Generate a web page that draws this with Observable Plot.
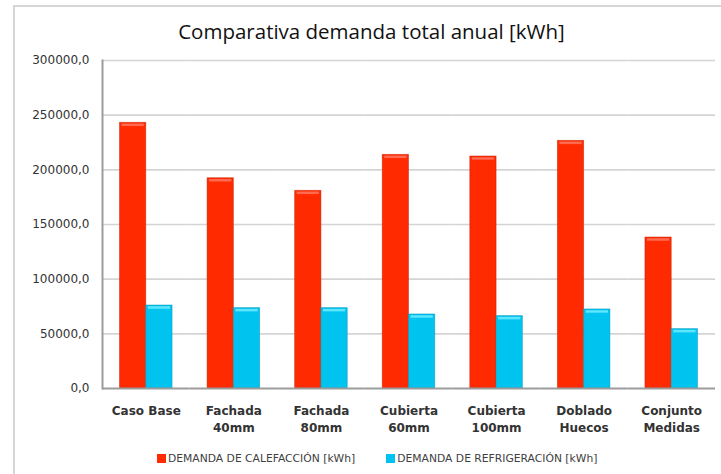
<!DOCTYPE html>
<html>
<head>
<meta charset="utf-8">
<script src="https://cdn.jsdelivr.net/npm/d3@7"></script>
<script src="https://cdn.jsdelivr.net/npm/@observablehq/plot@0.6"></script>
<style>
  html, body { margin: 0; padding: 0; background: #fff; }
  #wrap { position: relative; width: 721px; height: 474px; overflow: hidden; background: #fff; }
  #frame { position: absolute; left: 13px; top: 5px; right: -5px; bottom: -5px; border-top: 2px solid #d6d6d6; border-left: 2px solid #d6d6d6; }
  #title { position: absolute; left: 0; width: 743px; top: 16px; text-align: center; font-family: "Open Sans", sans-serif; font-size: 20.5px; color: #111; line-height: 30px; }
  #chart { position: absolute; left: 0; top: 40px; }
  #legend { position: absolute; left: 157px; top: 451px; }
  .lg-swatches { font-family: "DejaVu Sans", sans-serif !important; font-size: 10.75px !important; color: #404040 !important; min-height: 14px !important; margin: 0 !important; }
  .lg-swatch { margin-right: 31px !important; }
  .lg-swatch > svg { margin-right: 2px !important; }
</style>
</head>
<body>
<div id="wrap">
  <div id="frame"></div>
  <div id="title">Comparativa demanda total anual [kWh]</div>
  <div id="chart"></div>
  <div id="legend"></div>
</div>
<script>
const categories = ["Caso Base", "Fachada\n40mm", "Fachada\n80mm", "Cubierta\n60mm", "Cubierta\n100mm", "Doblado\nHuecos", "Conjunto\nMedidas"];
const calefaccion = [243000, 192300, 180800, 213700, 212200, 226500, 138100];
const refrigeracion = [75900, 73500, 73500, 67700, 66200, 72300, 54300];
const seriesNames = ["DEMANDA DE CALEFACCIÓN [kWh]", "DEMANDA DE REFRIGERACIÓN  [kWh]"];
const seriesColors = ["#ff2a00", "#00c3f0"];
const capColors = ["#ff6a50", "#5ee6ff"];
const edgeColors = ["#c82000", "#0092b8"];
const yTicks = [0, 50000, 100000, 150000, 200000, 250000, 300000];

const data = [];
categories.forEach((c, i) => {
  data.push({cat: c, serie: seriesNames[0], value: calefaccion[i], k: 0});
  data.push({cat: c, serie: seriesNames[1], value: refrigeracion[i], k: 1});
});

const fmt = d => d3.format(".1f")(d).replace(".", ",");

const chart = Plot.plot({
  width: 721,
  height: 400,
  marginLeft: 102,
  marginRight: 6,
  marginTop: 20,
  marginBottom: 52,
  style: {fontFamily: "DejaVu Sans, sans-serif", background: "transparent", color: "#333"},
  fx: {domain: categories, padding: 0, round: false, label: null},
  x: {domain: seriesNames, paddingInner: 0, paddingOuter: 2 / 3, round: false, axis: null, label: null},
  y: {domain: [0, 300000], label: null},
  color: {domain: seriesNames, range: seriesColors},
  marks: [
    Plot.gridY(yTicks.slice(1), {stroke: "#d4d4d4", strokeWidth: 1.6, strokeOpacity: 1}),
    Plot.barY(data, {fx: "cat", x: "serie", y: "value", fill: "serie", stroke: d => edgeColors[d.k], strokeWidth: 0.8, strokeOpacity: 0.6}),
    Plot.tickY(data, {fx: "cat", x: "serie", y: "value", stroke: d => capColors[d.k], strokeWidth: 2.5, dy: 2, insetLeft: 2, insetRight: 2}),
    Plot.ruleY([0], {stroke: "#9c9c9c", strokeWidth: 2}),
    Plot.frame({anchor: "left", facet: "super", stroke: "#9c9c9c", strokeWidth: 2}),
    Plot.axisY({ticks: yTicks, tickSize: 0, tickPadding: 13, tickFormat: fmt, fontSize: 12, fill: "#333"}),
    Plot.axisFx({anchor: "bottom", tickSize: 0, tickPadding: 15, fontSize: 12, fontWeight: "bold", lineHeight: 1.4, fill: "#333", label: null})
  ]
});
document.getElementById("chart").appendChild(chart);

const leg = Plot.legend({color: {type: "ordinal", domain: seriesNames, range: seriesColors}, swatchSize: 9, className: "lg"});
document.getElementById("legend").appendChild(leg);
</script>
</body>
</html>
